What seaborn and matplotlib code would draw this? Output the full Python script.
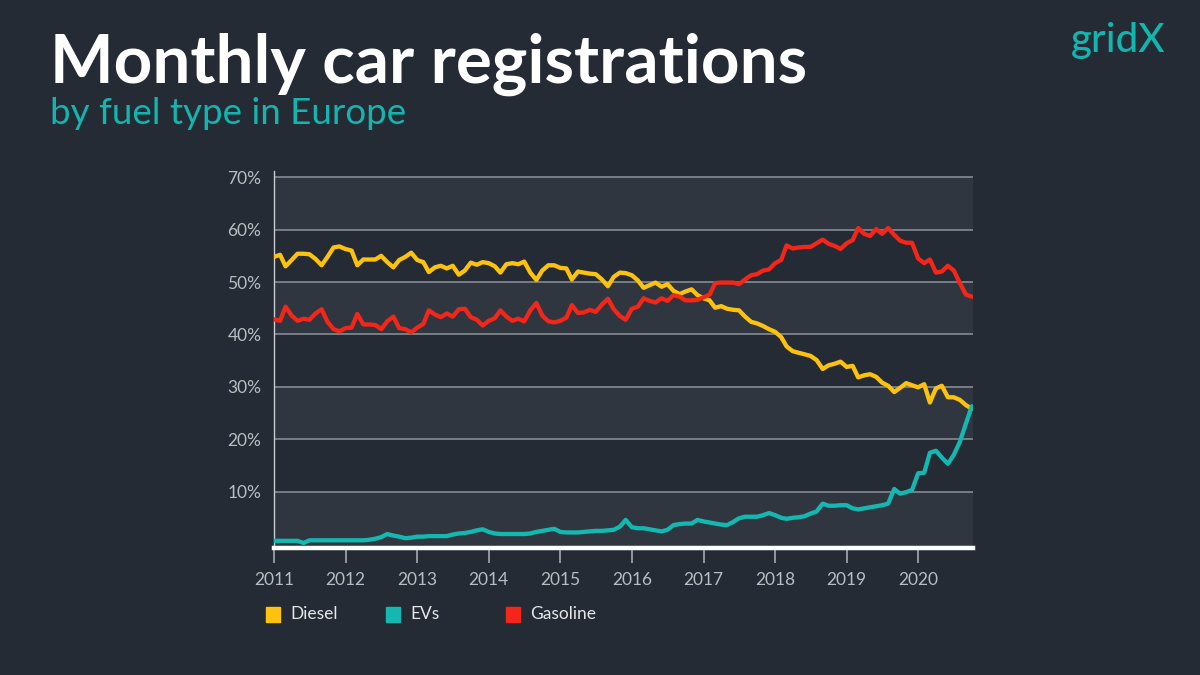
import pandas as pd
import matplotlib
matplotlib.use("Agg")
import matplotlib.pyplot as plt
import matplotlib.dates as mdates
from matplotlib.patches import Rectangle
import seaborn as sns

# monthly shares (%), Jan 2011 .. Oct 2020
months = pd.date_range("2011-01-01", periods=118, freq="MS")

diesel = [
    54.8, 55.2, 53.0, 54.2, 55.4, 55.4, 55.3, 54.4, 53.2, 54.8, 56.6, 56.8,
    56.3, 56.0, 53.2, 54.3, 54.3, 54.3, 55.0, 53.8, 52.8, 54.2, 54.8, 55.6,
    54.2, 53.8, 51.9, 52.8, 53.1, 52.6, 53.1, 51.4, 52.2, 53.7, 53.3, 53.8,
    53.6, 53.0, 51.8, 53.4, 53.6, 53.4, 53.9, 51.8, 50.4, 52.2, 53.2, 53.2,
    52.7, 52.6, 50.5, 52.0, 51.8, 51.6, 51.5, 50.5, 49.2, 51.0, 51.8, 51.7,
    51.3, 50.3, 48.9, 49.4, 49.9, 49.1, 49.6, 48.3, 47.7, 48.2, 48.6, 47.5,
    46.9, 46.5, 45.1, 45.4, 44.9, 44.7, 44.6, 43.4, 42.4, 42.1, 41.6, 41.0,
    40.5, 39.5, 37.7, 36.8, 36.5, 36.2, 35.9, 35.1, 33.4, 34.1, 34.4, 34.8,
    33.8, 34.0, 31.8, 32.2, 32.4, 31.9, 30.8, 30.2, 29.0, 29.8, 30.7, 30.3,
    29.9, 30.5, 27.0, 29.7, 30.2, 28.0, 28.0, 27.5, 26.5, 25.8,
]

evs = [
    0.6, 0.6, 0.6, 0.6, 0.6, 0.2, 0.7, 0.7, 0.7, 0.7, 0.7, 0.7,
    0.7, 0.7, 0.7, 0.7, 0.8, 1.0, 1.3, 1.9, 1.6, 1.4, 1.1, 1.2,
    1.4, 1.4, 1.5, 1.5, 1.5, 1.5, 1.8, 2.0, 2.1, 2.3, 2.6, 2.8,
    2.3, 2.0, 1.9, 1.9, 1.9, 1.9, 1.9, 2.0, 2.3, 2.5, 2.7, 2.9,
    2.3, 2.2, 2.2, 2.2, 2.3, 2.4, 2.5, 2.5, 2.6, 2.7, 3.3, 4.6,
    3.2, 3.0, 3.0, 2.8, 2.6, 2.4, 2.7, 3.6, 3.8, 3.9, 3.9, 4.6,
    4.3, 4.1, 3.9, 3.7, 3.6, 4.2, 4.9, 5.2, 5.2, 5.2, 5.5, 5.9,
    5.5, 5.0, 4.8, 5.0, 5.1, 5.3, 5.8, 6.2, 7.7, 7.3, 7.3, 7.4,
    7.4, 6.8, 6.6, 6.8, 7.0, 7.2, 7.4, 7.7, 10.5, 9.6, 9.9, 10.3,
    13.5, 13.6, 17.4, 17.8, 16.5, 15.3, 17.0, 19.5, 23.0, 26.3,
]

gasoline = [
    42.9, 42.6, 45.3, 43.6, 42.6, 43.0, 42.8, 44.0, 44.8, 42.4, 41.0, 40.6,
    41.2, 41.3, 43.9, 41.9, 41.9, 41.8, 41.0, 42.5, 43.4, 41.2, 41.0, 40.4,
    41.3, 42.0, 44.6, 43.8, 43.3, 44.0, 43.4, 44.8, 44.9, 43.3, 42.8, 41.7,
    42.6, 43.1, 44.6, 43.4, 42.6, 43.0, 42.5, 44.6, 46.0, 43.6, 42.5, 42.3,
    42.6, 43.2, 45.6, 44.1, 44.2, 44.7, 44.3, 45.7, 46.8, 44.8, 43.5, 42.8,
    44.9, 45.3, 46.9, 46.4, 46.1, 46.9, 46.4, 47.5, 47.2, 46.5, 46.5, 46.6,
    47.1, 47.6, 49.8, 49.9, 49.9, 49.9, 49.6, 50.5, 51.3, 51.5, 52.2, 52.4,
    53.6, 54.2, 57.0, 56.4, 56.6, 56.7, 56.7, 57.4, 58.1, 57.3, 56.9, 56.3,
    57.4, 58.0, 60.3, 59.2, 58.8, 60.1, 59.2, 60.3, 59.0, 57.9, 57.5, 57.5,
    54.5, 53.6, 54.3, 51.8, 52.0, 53.1, 52.2, 49.8, 47.6, 47.2,
]

fuel_types = ["Diesel", "EVs", "Gasoline"]
colors = {"Diesel": "#fdc20f", "EVs": "#14b8b1", "Gasoline": "#f4261a"}

BG = "#242b34"
BAND = "#2f363f"

df = pd.DataFrame({"month": months, "Diesel": diesel, "EVs": evs, "Gasoline": gasoline})
long_df = df.melt(id_vars="month", var_name="fuel", value_name="share")

sns.set_theme(style="white")
plt.rcParams["font.family"] = ["Lato", "DejaVu Sans"]

fig = plt.figure(figsize=(12, 6.75), dpi=100, facecolor=BG)
ax = fig.add_axes([274 / 1200, 0.1879, 0.5825, 0.5588])
ax.set_facecolor(BG)

# alternating bands
for lo, hi in [(-0.8, 10), (20, 30), (40, 50), (60, 70)]:
    ax.axhspan(lo, hi, color=BAND, zorder=0, lw=0)
for y in range(10, 80, 10):
    ax.axhline(y, color="#7e848b", lw=1.3, zorder=1)

sns.lineplot(data=long_df, x="month", y="share", hue="fuel", hue_order=fuel_types,
             palette=colors, linewidth=3.1, ax=ax, legend=False, zorder=3)

ax.set_xlim(pd.Timestamp("2011-01-01"), pd.Timestamp("2020-10-07"))
ax.set_ylim(-0.8, 71.2)
ax.set_xlabel("")
ax.set_ylabel("")

ax.xaxis.set_major_locator(mdates.YearLocator())
ax.xaxis.set_major_formatter(mdates.DateFormatter("%Y"))
ax.tick_params(axis="x", direction="out", length=11, width=1.3, color="#9aa0a6",
               labelcolor="#b9bdc2", labelsize=12.5, pad=6, bottom=True)
ax.set_yticks(range(10, 80, 10))
ax.set_yticklabels([f"{v}%" for v in range(10, 80, 10)])
ax.tick_params(axis="y", length=0, labelcolor="#b9bdc2", labelsize=12.5, pad=9)

for side in ["top", "right"]:
    ax.spines[side].set_visible(False)
ax.spines["bottom"].set_color("white")
ax.spines["bottom"].set_linewidth(3.2)
ax.spines["bottom"].set_zorder(4)
ax.spines["left"].set_color("#c9ccd0")
ax.spines["left"].set_linewidth(1)

# titles
fig.text(50 / 1200, 1 - 83 / 675, "Monthly car registrations", color="white",
         fontsize=48.5, fontweight="bold", ha="left", va="baseline")
fig.text(50 / 1200, 1 - 124 / 675, "by fuel type in Europe", color="#13b6ae",
         fontsize=26.5, ha="left", va="baseline")
fig.text(1166 / 1200, 1 - 52 / 675, "gridX", color="#13b6ae",
         fontsize=29, fontweight="medium", ha="right", va="baseline")

# legend
for i, name in enumerate(fuel_types):
    x0 = (266 + 120 * i) / 1200
    fig.patches.append(Rectangle((x0, 1 - 622 / 675), 14 / 1200, 15 / 675,
                                 transform=fig.transFigure, color=colors[name]))
    fig.text(x0 + 24 / 1200, 1 - 614 / 675, name, color="#e4e6e8",
             fontsize=12.5, ha="left", va="center")

fig.savefig("out.png", dpi=100, facecolor=BG)
